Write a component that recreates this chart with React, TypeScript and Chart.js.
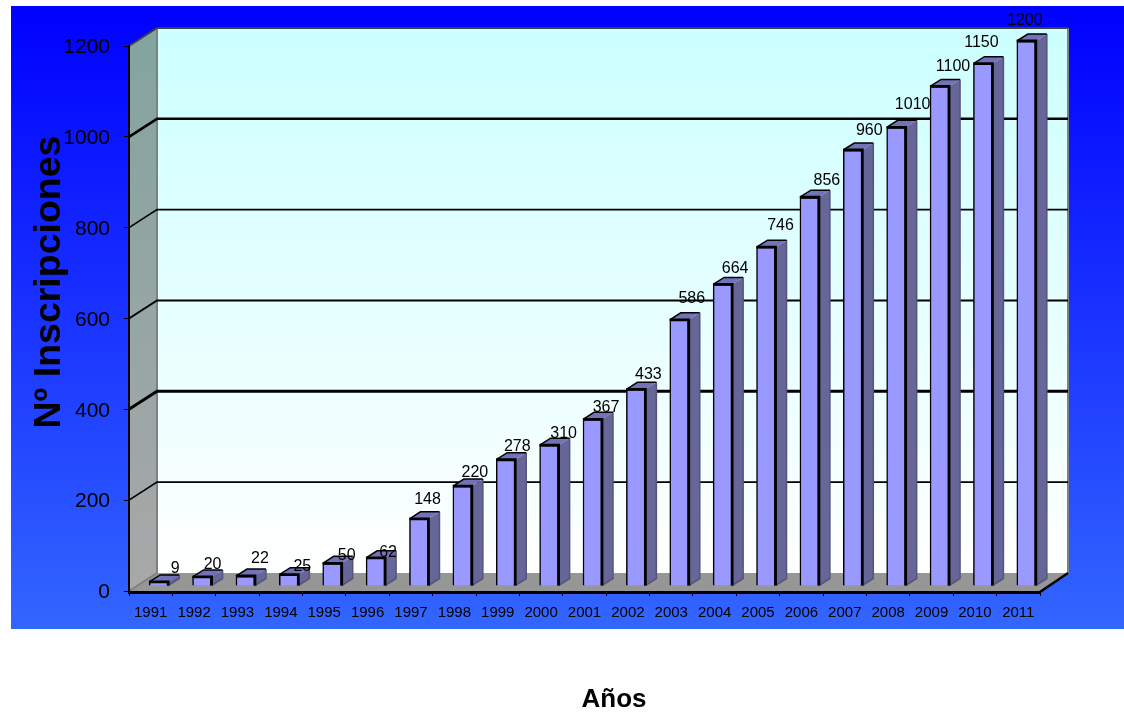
import React, { useEffect, useRef } from "react";
import { Chart, registerables } from "chart.js";

Chart.register(...registerables);

const years = ["1991","1992","1993","1994","1995","1996","1997","1998","1999","2000","2001","2002","2003","2004","2005","2006","2007","2008","2009","2010","2011"];
const inscripciones = [9,20,22,25,50,62,148,220,278,310,367,433,586,664,746,856,960,1010,1100,1150,1200];

// Offset of each value label from the top of its column.
const labelDx = [16,10,14,13,14,12,8,12,11,14,13,12,12,12,14,17,16,16,13,-2,-2];
const labelDy = [-13,-12,-17,-8,-8,-5,-19,-13,-13,-12,-12,-15,-21,-16,-22,-17,-19,-23,-20,-21,-20];

const gridWeights: Record<number, number> = { 200: 1.6, 400: 3, 600: 2, 800: 1.6, 1000: 2.5 };

// Oblique projection of the box: wall depth and column depth.
const DEPTH_X = 28;
const DEPTH_Y = 18;
const COL_DX = 11;
const COL_DY = 7;
const COL_SHIFT_X = 8;
const COL_SHIFT_Y = -5;

const FONT = '"Liberation Sans", Arial, sans-serif';

function poly(ctx: CanvasRenderingContext2D, pts: number[][], fill: string | CanvasGradient) {
  ctx.beginPath();
  pts.forEach(([x, y], i) => (i ? ctx.lineTo(x, y) : ctx.moveTo(x, y)));
  ctx.closePath();
  ctx.fillStyle = fill;
  ctx.fill();
}

const boxPlugin = {
  id: "box3d",
  beforeDraw(chart: any) {
    const { ctx, chartArea: a, width } = chart;
    const { left, right, top, bottom } = a;
    const y = chart.scales.y;
    ctx.save();

    const panel = ctx.createLinearGradient(0, 6, 0, 629);
    panel.addColorStop(0, "#0000ff");
    panel.addColorStop(1, "#3366ff");
    ctx.fillStyle = panel;
    ctx.fillRect(11, 6, width - 11, 623);

    const wall = ctx.createLinearGradient(0, top - DEPTH_Y, 0, bottom - DEPTH_Y);
    wall.addColorStop(0, "#ccffff");
    wall.addColorStop(1, "#ffffff");
    ctx.fillStyle = wall;
    ctx.fillRect(left + DEPTH_X, top - DEPTH_Y, right - left, bottom - top);

    const side = ctx.createLinearGradient(0, top, 0, bottom);
    side.addColorStop(0, "#84a4a0");
    side.addColorStop(1, "#a8a8a8");
    poly(ctx, [[left, top], [left + DEPTH_X, top - DEPTH_Y], [left + DEPTH_X, bottom - DEPTH_Y], [left, bottom]], side);

    poly(ctx, [[left, bottom], [right, bottom], [right + DEPTH_X, bottom - DEPTH_Y], [left + DEPTH_X, bottom - DEPTH_Y]], "#969696");

    // Wall outline
    ctx.strokeStyle = "#808080";
    ctx.lineWidth = 2;
    ctx.beginPath();
    ctx.moveTo(left + DEPTH_X, bottom - DEPTH_Y);
    ctx.lineTo(left + DEPTH_X, top - DEPTH_Y);
    ctx.moveTo(right + DEPTH_X, top - DEPTH_Y);
    ctx.lineTo(right + DEPTH_X, bottom - DEPTH_Y);
    ctx.moveTo(left, bottom);
    ctx.lineTo(left + DEPTH_X, bottom - DEPTH_Y);
    ctx.stroke();
    ctx.strokeStyle = "#404040";
    ctx.beginPath();
    ctx.moveTo(left, top);
    ctx.lineTo(left + DEPTH_X, top - DEPTH_Y);
    ctx.lineTo(right + DEPTH_X, top - DEPTH_Y);
    ctx.stroke();

    // Gridlines running along the side wall and the back wall
    ctx.strokeStyle = "#000";
    y.ticks.forEach((t: any) => {
      if (t.value === 0 || t.value === 1200) return;
      const py = y.getPixelForValue(t.value);
      ctx.lineWidth = gridWeights[t.value] ?? 1.6;
      ctx.beginPath();
      ctx.moveTo(left, py);
      ctx.lineTo(left + DEPTH_X, py - DEPTH_Y);
      ctx.lineTo(right + DEPTH_X, py - DEPTH_Y);
      ctx.stroke();
    });

    // Front edge of the floor
    ctx.fillStyle = "#000";
    ctx.fillRect(left - 1, bottom, right - left + 1, 3);
    ctx.lineWidth = 2.5;
    ctx.beginPath();
    ctx.moveTo(right, bottom + 1);
    ctx.lineTo(right + DEPTH_X, bottom - DEPTH_Y);
    ctx.stroke();

    ctx.restore();
  },
  beforeDatasetsDraw(chart: any) {
    chart.ctx.save();
    chart.ctx.translate(COL_SHIFT_X, COL_SHIFT_Y);
  },
  afterDatasetsDraw(chart: any) {
    const { ctx } = chart;
    const bars = chart.getDatasetMeta(0).data;
    bars.forEach((b: any) => {
      const hw = b.width / 2;
      const l = b.x - hw;
      const r = b.x + hw;
      const t = b.y;
      const base = b.base;

      // Side face, edged softly on its outer side
      poly(ctx, [[r, t], [r + COL_DX, t - COL_DY], [r + COL_DX, base - COL_DY], [r, base]], "#666699");
      ctx.strokeStyle = "#55557a";
      ctx.lineWidth = 1.5;
      ctx.beginPath();
      ctx.moveTo(r + COL_DX, t - COL_DY);
      ctx.lineTo(r + COL_DX, base - COL_DY);
      ctx.lineTo(r, base);
      ctx.stroke();

      // Top face
      poly(ctx, [[l, t], [r, t], [r + COL_DX, t - COL_DY], [l + COL_DX, t - COL_DY]], "#7272b8");
      ctx.strokeStyle = "#000";
      ctx.lineWidth = 1.5;
      ctx.beginPath();
      ctx.moveTo(l, t);
      ctx.lineTo(l + COL_DX, t - COL_DY);
      ctx.lineTo(r + COL_DX, t - COL_DY);
      ctx.stroke();

      // Heavy ridge where the front face meets the side and top
      ctx.lineWidth = 2.8;
      ctx.beginPath();
      ctx.moveTo(l, t);
      ctx.lineTo(r, t);
      ctx.lineTo(r, base);
      ctx.stroke();
    });
    ctx.restore();

    // Value labels
    ctx.save();
    ctx.fillStyle = "#000";
    ctx.font = `16px ${FONT}`;
    ctx.textAlign = "center";
    ctx.textBaseline = "middle";
    bars.forEach((b: any, i: number) => {
      ctx.fillText(String(inscripciones[i]), b.x + 8.5 + labelDx[i], b.y + COL_SHIFT_Y + labelDy[i]);
    });

    // Axis titles
    ctx.font = `bold 37.5px ${FONT}`;
    ctx.translate(50, 282);
    ctx.rotate(-Math.PI / 2);
    ctx.fillText("Nº Inscripciones", 0, 0);
    ctx.restore();

    ctx.save();
    ctx.fillStyle = "#000";
    ctx.font = `bold 26px ${FONT}`;
    ctx.textAlign = "center";
    ctx.textBaseline = "middle";
    ctx.fillText("Años", 614, 700);
    ctx.restore();
  },
};

export default function App() {
  const ref = useRef<HTMLCanvasElement>(null);

  useEffect(() => {
    const chart = new Chart(ref.current!, {
      type: "bar",
      data: {
        labels: years,
        datasets: [
          {
            data: inscripciones,
            backgroundColor: "#9999ff",
            borderColor: "#000",
            borderWidth: 1.5,
            barThickness: 19,
          },
        ],
      },
      options: {
        responsive: false,
        animation: false,
        layout: { padding: { top: 46, right: 84, left: 0, bottom: 0 } },
        plugins: { legend: { display: false }, tooltip: { enabled: false } },
        scales: {
          x: {
            grid: { drawOnChartArea: false, color: "#000", tickLength: 5, lineWidth: 1 },
            border: { display: false },
            ticks: { color: "#000", font: { family: FONT, size: 15 }, maxRotation: 0, minRotation: 0, autoSkip: false, padding: 8 },
            afterFit: (s: any) => { s.height = 121; },
          },
          y: {
            min: 0,
            max: 1200,
            grid: { drawOnChartArea: false, color: "#000", tickLength: 5, lineWidth: 1 },
            border: { display: true, color: "#000", width: 2 },
            ticks: {
              stepSize: 200,
              color: "#000",
              font: { family: FONT, size: 21 },
              padding: 14,
              labelOffset: 1.5,
              callback: (v: any) => String(v),
            },
            afterFit: (s: any) => { s.width = 129; },
          },
        },
      },
      plugins: [boxPlugin],
    } as any);
    return () => chart.destroy();
  }, []);

  return (
    <div style={{ position: "absolute", left: 0, top: 0, width: 1124, height: 712, overflow: "hidden" }}>
      <canvas ref={ref} width={1124} height={712} style={{ display: "block" }} />
    </div>
  );
}
